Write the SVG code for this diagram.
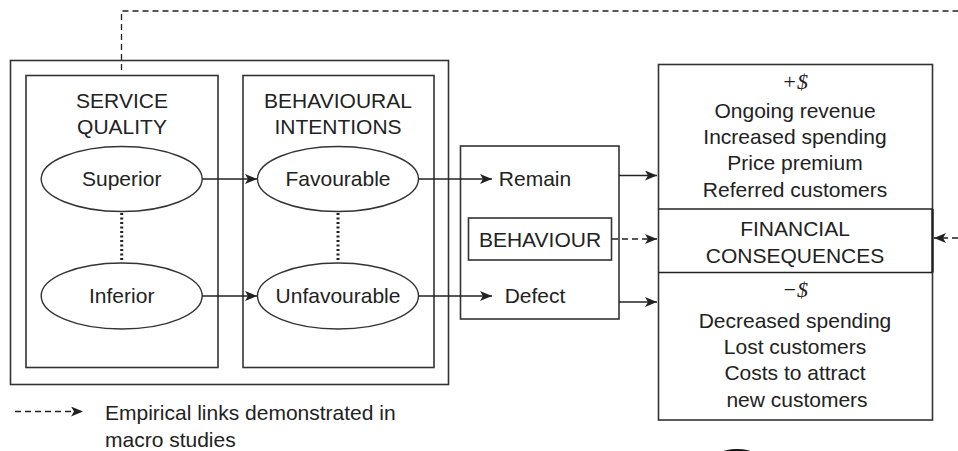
<svg xmlns="http://www.w3.org/2000/svg" width="958" height="451" viewBox="0 0 958 451">
<defs>
<marker id="ah" viewBox="0 0 12 10" refX="12" refY="5" markerWidth="12" markerHeight="10" markerUnits="userSpaceOnUse" orient="auto">
<path d="M0,0 L12,5 L0,10 L3,5 Z" fill="#222"/>
</marker>
</defs>
<style>
.box{fill:none;stroke:#333;stroke-width:1.6}
.ell{fill:#fff;stroke:#333;stroke-width:1.4}
.t{font-family:"Liberation Sans",Arial,sans-serif;font-size:21px;fill:#222;text-anchor:middle}
.ts{font-family:"Liberation Serif","Times New Roman",serif;font-style:italic;font-size:22px;fill:#222;text-anchor:middle}
.ln{fill:none;stroke:#222;stroke-width:1.4}
.ar{fill:none;stroke:#222;stroke-width:1.4;marker-end:url(#ah)}
.da{fill:none;stroke:#222;stroke-width:1.3;stroke-dasharray:6,4}
.dot{fill:none;stroke:#222;stroke-width:3;stroke-dasharray:2,2.5}
</style>
<rect x="0" y="0" width="958" height="451" fill="#fff"/>
<g id="outer"><rect class="box" x="10.5" y="60.5" width="438" height="324"/></g>
<g id="service-quality">
<rect class="box" x="26" y="75.5" width="192" height="292"/>
<text class="t" x="122" y="108">SERVICE</text>
<text class="t" x="122" y="134">QUALITY</text>
</g>
<g id="behavioural-intentions">
<rect class="box" x="243" y="75.5" width="191" height="292"/>
<text class="t" x="338" y="108">BEHAVIOURAL</text>
<text class="t" x="338" y="134">INTENTIONS</text>
</g>
<g id="superior"><ellipse class="ell" cx="121.7" cy="179" rx="80.5" ry="32.5"/><text class="t" x="121.7" y="186">Superior</text></g>
<g id="inferior"><ellipse class="ell" cx="121.7" cy="296" rx="80.5" ry="33"/><text class="t" x="121.7" y="303">Inferior</text></g>
<g id="favourable"><ellipse class="ell" cx="338" cy="179" rx="80.5" ry="32.5"/><text class="t" x="338" y="186">Favourable</text></g>
<g id="unfavourable"><ellipse class="ell" cx="338" cy="296" rx="80.5" ry="33"/><text class="t" x="338" y="303">Unfavourable</text></g>
<g id="behaviour">
<rect class="box" x="460.5" y="146" width="158.5" height="173"/>
<rect class="box" x="468.5" y="218" width="143" height="42"/>
<text class="t" x="540" y="247">BEHAVIOUR</text>
<text class="t" x="535" y="186">Remain</text>
<text class="t" x="535" y="303">Defect</text>
</g>
<g id="financial-consequences">
<rect class="box" x="658.5" y="64.5" width="274" height="355.5"/>
<line class="ln" x1="658.5" y1="209" x2="932.5" y2="209"/>
<line class="ln" x1="658.5" y1="272.5" x2="932.5" y2="272.5"/>
<line x1="932.5" y1="209" x2="932.5" y2="272.5" stroke="#222" stroke-width="2.4"/>
<text class="ts" x="795" y="89">+$</text>
<text class="t" x="795" y="118">Ongoing revenue</text>
<text class="t" x="795" y="144">Increased spending</text>
<text class="t" x="795" y="170">Price premium</text>
<text class="t" x="795" y="196.5">Referred customers</text>
<text class="t" x="795" y="236">FINANCIAL</text>
<text class="t" x="795" y="262.5">CONSEQUENCES</text>
<text class="ts" x="795" y="297">−$</text>
<text class="t" x="795" y="328">Decreased spending</text>
<text class="t" x="795" y="354">Lost customers</text>
<text class="t" x="795" y="380">Costs to attract</text>
<text class="t" x="797" y="406.5">new customers</text>
</g>
<g id="legend">
<line class="da" x1="15" y1="411.5" x2="83" y2="411.5" marker-end="url(#ah)"/>
<text class="t" x="105" y="420" style="text-anchor:start">Empirical links demonstrated in</text>
<text class="t" x="105" y="446.5" style="text-anchor:start">macro studies</text>
</g>
<g id="connectors">
<path class="da" d="M121.5,70 L121.5,11 L958,11"/>
<line class="dot" x1="121.7" y1="213" x2="121.7" y2="262"/>
<line class="dot" x1="338" y1="213" x2="338" y2="262"/>
<line class="ar" x1="202.2" y1="179" x2="257" y2="179"/>
<line class="ar" x1="202.2" y1="296" x2="257" y2="296"/>
<line class="ar" x1="418.5" y1="179" x2="492" y2="179"/>
<line class="ar" x1="418.5" y1="296" x2="492" y2="296"/>
<line class="ar" x1="619" y1="175.5" x2="657" y2="175.5"/>
<line class="ar" x1="619" y1="302" x2="657" y2="302"/>
<line class="da" x1="612" y1="239" x2="657" y2="239" marker-end="url(#ah)"/>
<line class="da" x1="958" y1="238" x2="934" y2="238" marker-end="url(#ah)"/>
</g>
<ellipse cx="737" cy="452" rx="14" ry="3" fill="#111"/>
</svg>
